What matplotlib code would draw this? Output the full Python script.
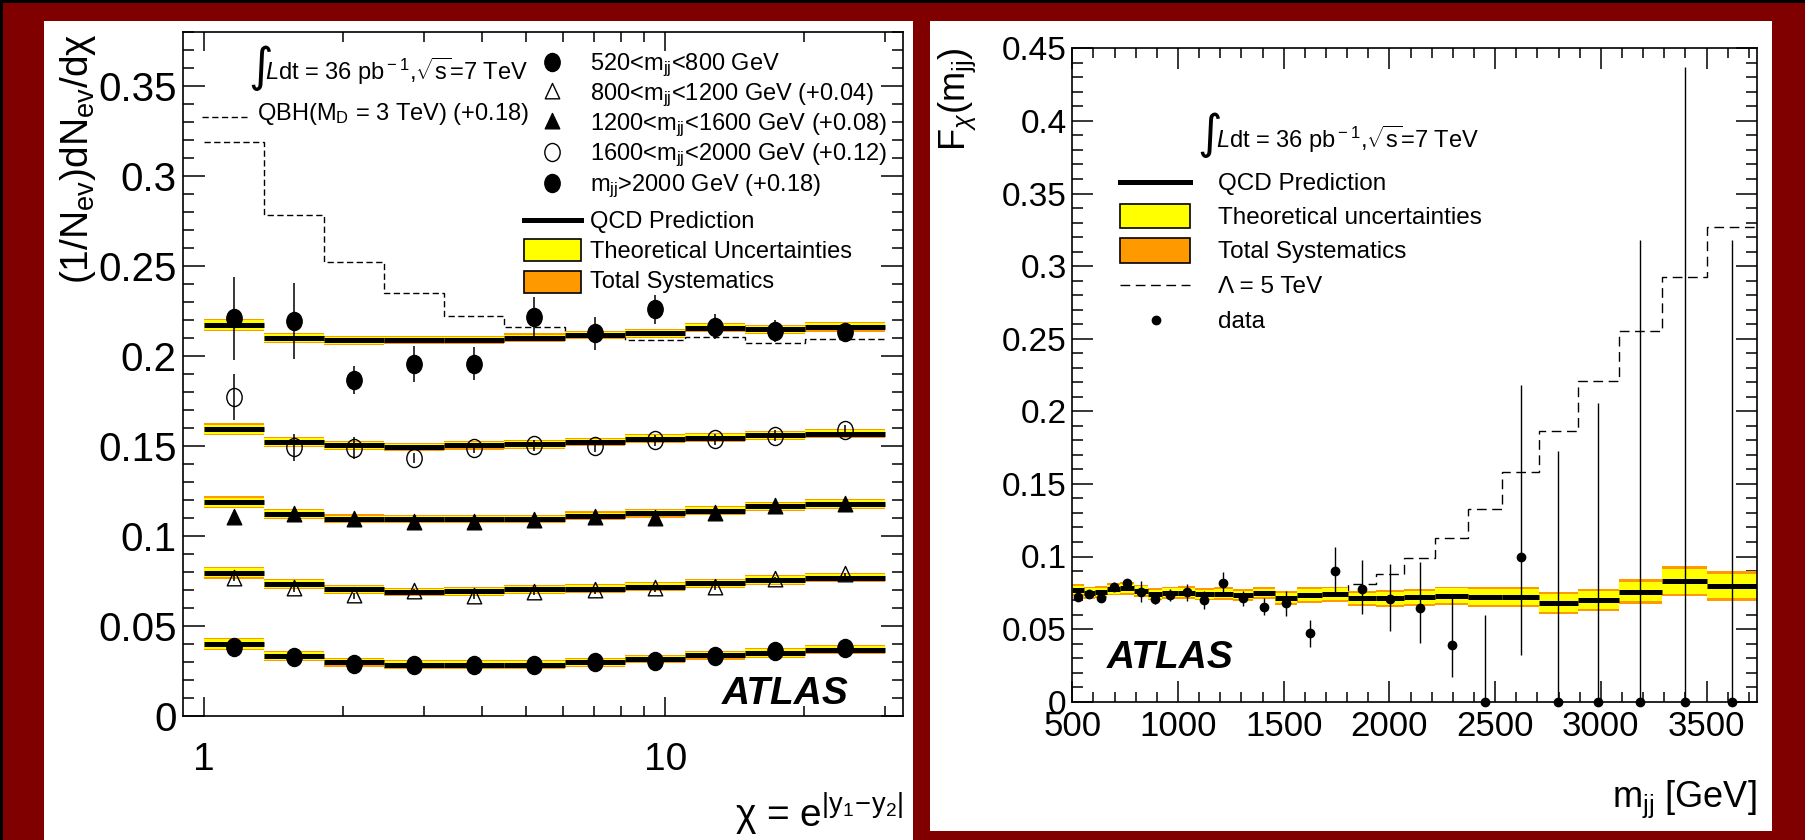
import matplotlib
matplotlib.use("Agg")
import matplotlib.pyplot as plt
import numpy as np
from matplotlib.path import Path
from matplotlib.patches import Rectangle
from matplotlib.lines import Line2D
from matplotlib.ticker import FixedLocator, FixedFormatter

FONT = "Liberation Sans"
plt.rcParams["font.family"] = [FONT, "DejaVu Sans"]
plt.rcParams["mathtext.fontset"] = "custom"
plt.rcParams["mathtext.rm"] = FONT
plt.rcParams["mathtext.it"] = FONT + ":italic"
plt.rcParams["mathtext.bf"] = FONT + ":bold"

# ---------------- left panel data (chi distributions) ----------------
chi_edges = [1, 1.35, 1.82, 2.46, 3.32, 4.48, 6.05, 8.17, 11.02, 14.88, 20.09, 30]
series_labels = [r"520<m$_{\rm jj}$<800 GeV",
                 r"800<m$_{\rm jj}$<1200 GeV (+0.04)",
                 r"1200<m$_{\rm jj}$<1600 GeV (+0.08)",
                 r"1600<m$_{\rm jj}$<2000 GeV (+0.12)",
                 r"m$_{\rm jj}$>2000 GeV (+0.18)"]
series_offsets = [0.0, 0.04, 0.08, 0.12, 0.18]

qcd_520_800 = [0.0400, 0.0335, 0.0300, 0.0285, 0.0285, 0.0285, 0.0298, 0.0317, 0.0339, 0.0350, 0.0369]
qcd_800_1200 = [0.0397, 0.0334, 0.0304, 0.0289, 0.0293, 0.0304, 0.0308, 0.0319, 0.0337, 0.0356, 0.0369]
qcd_1200_1600 = [0.0388, 0.0323, 0.0295, 0.0295, 0.0295, 0.0295, 0.0313, 0.0327, 0.0340, 0.0366, 0.0377]
qcd_1600_2000 = [0.0394, 0.0323, 0.0305, 0.0295, 0.0305, 0.0310, 0.0323, 0.0342, 0.0346, 0.0360, 0.0370]
qcd_2000_up = [0.0373, 0.0302, 0.0289, 0.0289, 0.0289, 0.0302, 0.0317, 0.0327, 0.0358, 0.0349, 0.0364]

data_520_800 = [0.0382, 0.0328, 0.0289, 0.0285, 0.0285, 0.0285, 0.0298, 0.0305, 0.0331, 0.0363, 0.0378]
data_800_1200 = [0.0363, 0.0304, 0.0267, 0.0290, 0.0263, 0.0285, 0.0295, 0.0304, 0.0313, 0.0356, 0.0382]
data_1200_1600 = [0.0299, 0.0317, 0.0290, 0.0270, 0.0270, 0.0286, 0.0300, 0.0295, 0.0320, 0.0360, 0.0373]
data_1600_2000 = [0.0573, 0.0295, 0.0290, 0.0234, 0.0290, 0.0305, 0.0300, 0.0332, 0.0338, 0.0357, 0.0388]
data_2000_up = [0.0410, 0.0396, 0.0066, 0.0159, 0.0159, 0.0420, 0.0327, 0.0461, 0.0364, 0.0340, 0.0336]

err_520_800 = [0.0015] * 11
err_800_1200 = [0.0015] * 11
err_1200_1600 = [0.0015] * 11
err_1600_2000 = [0.013, 0.0075, 0.006, 0.003, 0.003, 0.003, 0.003, 0.003, 0.003, 0.003, 0.003]
err_2000_up = [0.023, 0.021, 0.0077, 0.010, 0.009, 0.011, 0.009, 0.008, 0.007, 0.006, 0.005]

qbh_md3 = [0.1392, 0.0982, 0.0721, 0.0550, 0.0423, 0.0364, 0.0308, 0.0289, 0.0304, 0.0271, 0.0293]

chi_theo_hw = [0.0026, 0.0021, 0.0019, 0.0018, 0.0018, 0.0018, 0.0018, 0.0018, 0.0019, 0.0020, 0.0021]
chi_syst_hw = [0.0033, 0.0027, 0.0025, 0.0024, 0.0024, 0.0024, 0.0024, 0.0024, 0.0025, 0.0026, 0.0027]

chi_yticks = [0, 0.05, 0.1, 0.15, 0.2, 0.25, 0.3, 0.35]
chi_yticklabels = ["0", "0.05", "0.1", "0.15", "0.2", "0.25", "0.3", "0.35"]

# ---------------- right panel data (F_chi vs mjj) ----------------
mjj_edges = [500, 555, 607, 665, 725, 790, 857, 926, 1002, 1082, 1168, 1258, 1356, 1458,
             1565, 1682, 1806, 1936, 2071, 2216, 2371, 2534, 2708, 2891, 3084, 3288, 3504, 3737]
fchi_qcd = [0.0770, 0.0750, 0.0755, 0.0775, 0.0780, 0.0765, 0.0740, 0.0750, 0.0752, 0.0740,
            0.0745, 0.0735, 0.0748, 0.0715, 0.0735, 0.0740, 0.0712, 0.0712, 0.0720, 0.0730,
            0.0722, 0.0722, 0.0680, 0.0700, 0.0757, 0.0830, 0.0796]
fchi_theo_hw = [0.0030, 0.0030, 0.0030, 0.0030, 0.0030, 0.0030, 0.0030, 0.0030, 0.0030, 0.0030,
                0.0030, 0.0030, 0.0030, 0.0035, 0.0040, 0.0040, 0.0040, 0.0045, 0.0045, 0.0050,
                0.0055, 0.0055, 0.0060, 0.0060, 0.0065, 0.0085, 0.0085]
fchi_syst_hw = [0.0042, 0.0042, 0.0042, 0.0042, 0.0042, 0.0042, 0.0042, 0.0042, 0.0042, 0.0042,
                0.0042, 0.0042, 0.0042, 0.0048, 0.0053, 0.0053, 0.0053, 0.0058, 0.0058, 0.0063,
                0.0068, 0.0068, 0.0078, 0.0078, 0.0085, 0.0105, 0.0105]
fchi_lambda5 = [0.0772, 0.0752, 0.0757, 0.0777, 0.0782, 0.0767, 0.0743, 0.0753, 0.0755, 0.0744,
                0.0750, 0.0741, 0.0755, 0.0724, 0.0748, 0.0765, 0.0814, 0.0882, 0.0991, 0.1127,
                0.1325, 0.1582, 0.1864, 0.2206, 0.2550, 0.2926, 0.3268]
fchi_data = [0.0719, 0.0740, 0.0716, 0.0792, 0.0815, 0.0758, 0.0705, 0.0735, 0.0753, 0.0700,
             0.0815, 0.0712, 0.0654, 0.0678, 0.0471, 0.0900, 0.0776, 0.0705, 0.0643, 0.0389,
             0.0, 0.1000, 0.0, 0.0, 0.0, 0.0, 0.0]
fchi_err_up = [0.002, 0.002, 0.002, 0.003, 0.003, 0.007, 0.003, 0.004, 0.006, 0.006,
               0.008, 0.005, 0.006, 0.0087, 0.0094, 0.0164, 0.0197, 0.024, 0.032, 0.033,
               0.060, 0.118, 0.173, 0.206, 0.318, 0.437, 0.318]
fchi_err_dn = [0.002, 0.002, 0.002, 0.003, 0.003, 0.007, 0.003, 0.004, 0.006, 0.006,
               0.008, 0.005, 0.006, 0.0087, 0.0094, 0.0154, 0.0175, 0.022, 0.024, 0.022,
               0.0, 0.0675, 0.0, 0.0, 0.0, 0.0, 0.0]
fchi_yticks = [0, 0.05, 0.1, 0.15, 0.2, 0.25, 0.3, 0.35, 0.4, 0.45]
fchi_yticklabels = ["0", "0.05", "0.1", "0.15", "0.2", "0.25", "0.3", "0.35", "0.4", "0.45"]
mjj_xticks = [500, 1000, 1500, 2000, 2500, 3000, 3500]

# ---------------- styling ----------------
W, H = 1806, 840
RED = "#800000"
YELLOW = "#FFFF00"
ORANGE = "#FF9900"

fig = plt.figure(figsize=(W / 100, H / 100), dpi=100)
fig.patch.set_facecolor(RED)


def X(px):
    return px / W


def Y(py):
    return 1 - py / H


def frect(x0, y0, x1, y1, **kw):
    fig.add_artist(Rectangle((X(x0), Y(y1)), (x1 - x0) / W, (y1 - y0) / H,
                             transform=fig.transFigure, **kw))


# background panels
frect(44, 21, 913, 840, facecolor="white", edgecolor="none", zorder=-5)
frect(930, 21, 1772, 831, facecolor="white", edgecolor="none", zorder=-5)
frect(0, 0, W, 3, facecolor="black", edgecolor="none", zorder=-4)
frect(0, 0, 3, H, facecolor="black", edgecolor="none", zorder=-4)

circ = Path.unit_circle()
ell = Path(circ.vertices * np.array([0.85, 1.0]), circ.codes)
tri = Path([(0, 1.0), (-0.8, -0.7), (0.8, -0.7), (0, 1.0)],
           [Path.MOVETO, Path.LINETO, Path.LINETO, Path.CLOSEPOLY])

marker_styles = [dict(marker=ell, mfc="black", mec="black", ms=13),
                 dict(marker=tri, mfc="none", mec="black", ms=13, mew=1.0),
                 dict(marker=tri, mfc="black", mec="black", ms=13),
                 dict(marker=ell, mfc="none", mec="black", ms=13, mew=1.0),
                 dict(marker=ell, mfc="black", mec="black", ms=13)]

# ================= LEFT PANEL =================
axL = fig.add_axes([X(182.7), Y(716), (903.3 - 182.7) / W, (716 - 32.3) / H])
axL.set_xscale("log")
axL.set_xlim(0.9, 32.8)
axL.set_ylim(0, 0.38)

chi_e = np.array(chi_edges)
chi_c = np.sqrt(chi_e[:-1] * chi_e[1:])
qcds = [qcd_520_800, qcd_800_1200, qcd_1200_1600, qcd_1600_2000, qcd_2000_up]
datas = [data_520_800, data_800_1200, data_1200_1600, data_1600_2000, data_2000_up]
errs = [err_520_800, err_800_1200, err_1200_1600, err_1600_2000, err_2000_up]

axL.stairs(np.array(qbh_md3) + 0.18, chi_e, baseline=None, color="black", lw=1.0,
           linestyle=(0, (4.5, 2.5)), zorder=1)

for q, d, e, off, ms in zip(qcds, datas, errs, series_offsets, marker_styles):
    q = np.array(q) + off
    th = np.array(chi_theo_hw)
    sy = np.array(chi_syst_hw)
    axL.stairs(q + sy, chi_e, baseline=q - sy, fill=True, color=ORANGE, lw=0, zorder=2)
    axL.stairs(q + th, chi_e, baseline=q - th, fill=True, color=YELLOW, lw=0, zorder=2.1)
    axL.hlines(q, chi_e[:-1], chi_e[1:], color="black", lw=3.6, zorder=3)
    y = np.array(d) + off
    axL.errorbar(chi_c, y, yerr=np.array(e), fmt="none", ecolor="black",
                 elinewidth=1.1, capsize=0, zorder=4)
    axL.plot(chi_c, y, ls="none", zorder=5, **ms)

axL.xaxis.set_major_locator(FixedLocator([1, 10]))
axL.xaxis.set_major_formatter(FixedFormatter(["1", "10"]))
axL.xaxis.set_minor_locator(FixedLocator([2, 3, 4, 5, 6, 7, 8, 9, 20, 30]))
axL.xaxis.set_minor_formatter(FixedFormatter([""] * 10))
axL.yaxis.set_major_locator(FixedLocator(chi_yticks))
axL.yaxis.set_major_formatter(FixedFormatter(chi_yticklabels))
axL.yaxis.set_minor_locator(FixedLocator(np.arange(0, 0.381, 0.01)))
axL.tick_params(which="both", direction="in", top=True, right=True, width=1.1, color="black")
axL.tick_params(axis="y", which="major", length=15.8, labelsize=29, pad=4.3)
axL.tick_params(axis="y", which="minor", length=7.9)
axL.tick_params(axis="x", which="major", length=13.7, labelsize=28, pad=18.7)
axL.tick_params(axis="x", which="minor", length=7.2)
for s in axL.spines.values():
    s.set_linewidth(1.2)

fig.text(X(78), Y(33), r"(1/N$_{\rm ev}$)dN$_{\rm ev}$/dχ", rotation=90,
         ha="center", va="top", fontsize=28)
fig.text(X(903), Y(828), r"χ = e$^{|\mathrm{y}_{1}\mathrm{\!-\!y}_{2}|}$", ha="right",
         va="baseline", fontsize=28)
fig.text(X(722), Y(704), "ATLAS", fontsize=28, weight="bold", style="italic",
         va="baseline", zorder=10)

# left legend
Z = 10
fig.text(X(261), Y(68), "∫", fontsize=34, ha="center", va="center",
         family="DejaVu Sans", zorder=Z)
fig.text(X(265), Y(80), r"$\it{L}$dt = 36 pb$^{\rm -1}$,$\sqrt{\rm s}$=7 TeV",
         fontsize=17, va="baseline", zorder=Z)
fig.add_artist(Line2D([X(202), X(247)], [Y(117), Y(117)], transform=fig.transFigure,
                      color="black", lw=1.0, linestyle=(0, (4.5, 2.5)), zorder=Z))
fig.text(X(257), Y(120), r"QBH(M$_{\rm D}$ = 3 TeV) (+0.18)", fontsize=17,
         va="baseline", zorder=Z)

row_y = [62, 92, 122, 152, 183]
for lab, ms, yy in zip(series_labels, marker_styles, row_y):
    fig.add_artist(Line2D([X(552)], [Y(yy)], transform=fig.transFigure, ls="none",
                          zorder=Z, **ms))
    fig.text(X(590), Y(yy + 8), lab, fontsize=17, va="baseline", zorder=Z)

fig.add_artist(Line2D([X(524), X(581)], [Y(220), Y(220)], transform=fig.transFigure,
                      color="black", lw=3.6, zorder=Z))
fig.text(X(590), Y(228), "QCD Prediction", fontsize=17, va="baseline", zorder=Z)
frect(524, 239, 581, 261, facecolor=YELLOW, edgecolor="black", lw=1.2, zorder=Z)
fig.text(X(590), Y(258), "Theoretical Uncertainties", fontsize=17, va="baseline", zorder=Z)
frect(524, 271, 581, 293, facecolor=ORANGE, edgecolor="black", lw=1.2, zorder=Z)
fig.text(X(590), Y(288), "Total Systematics", fontsize=17, va="baseline", zorder=Z)

# ================= RIGHT PANEL =================
axR = fig.add_axes([X(1072.3), Y(701.7), (1756.7 - 1072.3) / W, (701.7 - 48.3) / H])
axR.set_xlim(500, 3737)
axR.set_ylim(0, 0.45)

m_e = np.array(mjj_edges)
m_c = 0.5 * (m_e[:-1] + m_e[1:])
fq = np.array(fchi_qcd)
axR.stairs(fchi_lambda5, m_e, baseline=None, color="black", lw=1.0,
           linestyle=(0, (7, 4)), zorder=1)
axR.stairs(fq + np.array(fchi_syst_hw), m_e, baseline=fq - np.array(fchi_syst_hw),
           fill=True, color=ORANGE, lw=0, zorder=2)
axR.stairs(fq + np.array(fchi_theo_hw), m_e, baseline=fq - np.array(fchi_theo_hw),
           fill=True, color=YELLOW, lw=0, zorder=2.1)
axR.hlines(fq, m_e[:-1], m_e[1:], color="black", lw=3.6, zorder=3)
axR.errorbar(m_c, fchi_data, yerr=[fchi_err_dn, fchi_err_up], fmt="none", ecolor="black",
             elinewidth=1.0, capsize=0, zorder=4, clip_on=False)
axR.plot(m_c, fchi_data, ls="none", marker="o", ms=6, color="black", zorder=5, clip_on=False)

axR.xaxis.set_major_locator(FixedLocator(mjj_xticks))
axR.xaxis.set_major_formatter(FixedFormatter([str(v) for v in mjj_xticks]))
axR.xaxis.set_minor_locator(FixedLocator(np.arange(500, 3737, 100)))
axR.yaxis.set_major_locator(FixedLocator(fchi_yticks))
axR.yaxis.set_major_formatter(FixedFormatter(fchi_yticklabels))
axR.yaxis.set_minor_locator(FixedLocator(np.arange(0, 0.451, 0.01)))
axR.tick_params(which="both", direction="in", top=True, right=True, width=1.1, color="black")
axR.tick_params(axis="y", which="major", length=15, labelsize=24, pad=4)
axR.tick_params(axis="y", which="minor", length=8)
axR.tick_params(axis="x", which="major", length=15, labelsize=25, pad=6)
axR.tick_params(axis="x", which="minor", length=7)
for s in axR.spines.values():
    s.set_linewidth(1.2)

fig.text(X(957), Y(47), r"F$_{\chi}$(m$_{\rm jj}$)", rotation=90, ha="center", va="top",
         fontsize=26)
fig.text(X(1757), Y(807), r"m$_{\rm jj}$ [GeV]", ha="right", va="baseline", fontsize=26)
fig.text(X(1107), Y(668), "ATLAS", fontsize=28, weight="bold", style="italic",
         va="baseline", zorder=10)

# right legend
fig.text(X(1210), Y(135), "∫", fontsize=34, ha="center", va="center",
         family="DejaVu Sans", zorder=Z)
fig.text(X(1216), Y(148), r"$\it{L}$dt = 36 pb$^{\rm -1}$,$\sqrt{\rm s}$=7 TeV",
         fontsize=17, va="baseline", zorder=Z)
fig.add_artist(Line2D([X(1120), X(1190)], [Y(182), Y(182)], transform=fig.transFigure,
                      color="black", lw=3.6, zorder=Z))
fig.text(X(1218), Y(190), "QCD Prediction", fontsize=17.5, va="baseline", zorder=Z)
frect(1120, 204, 1190, 228, facecolor=YELLOW, edgecolor="black", lw=1.2, zorder=Z)
fig.text(X(1218), Y(224), "Theoretical uncertainties", fontsize=17.5, va="baseline", zorder=Z)
frect(1120, 238, 1190, 263, facecolor=ORANGE, edgecolor="black", lw=1.2, zorder=Z)
fig.text(X(1218), Y(258), "Total Systematics", fontsize=17.5, va="baseline", zorder=Z)
fig.add_artist(Line2D([X(1120), X(1190)], [Y(285), Y(285)], transform=fig.transFigure,
                      color="black", lw=1.0, linestyle=(0, (7, 4)), zorder=Z))
fig.text(X(1218), Y(293), "Λ = 5 TeV", fontsize=17.5, va="baseline", zorder=Z)
fig.add_artist(Line2D([X(1156)], [Y(320)], transform=fig.transFigure, ls="none",
                      marker="o", ms=6, color="black", zorder=Z))
fig.text(X(1218), Y(328), "data", fontsize=17.5, va="baseline", zorder=Z)

fig.savefig("out.png", dpi=100, facecolor=fig.get_facecolor())
